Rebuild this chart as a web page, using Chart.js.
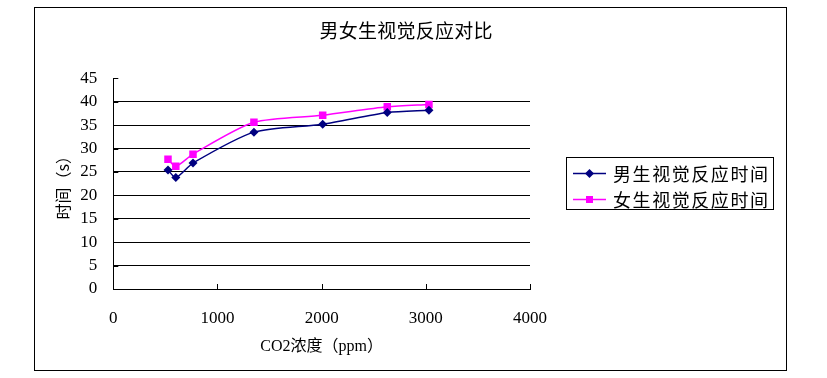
<!DOCTYPE html>
<html>
<head>
<meta charset="utf-8">
<script src="https://cdn.jsdelivr.net/npm/chart.js@4/dist/chart.umd.min.js"></script>
<style>
html,body{margin:0;padding:0;background:#fff;}
#wrap{position:relative;width:827px;height:378px;}
#frame{position:absolute;left:34px;top:7px;width:753px;height:364px;border:1px solid #000;box-sizing:border-box;}
canvas{position:absolute;left:0;top:0;}
</style>
</head>
<body>
<div id="wrap">
<div id="frame"></div>
<canvas id="c" width="827" height="378"></canvas>
</div>
<script>
const titleText = '男女生视觉反应对比';
const xTitle = 'CO2浓度（ppm）';
const yTitle = '时间（s）';
const seriesNames = ['男生视觉反应时间', '女生视觉反应时间'];
const co2 = [525, 600, 765, 1350, 2010, 2630, 3030];
const male = [25.4, 23.8, 26.9, 33.5, 35.2, 37.7, 38.2];
const female = [27.7, 26.2, 28.8, 35.6, 37.1, 38.9, 39.4];
const xTicks = [0, 1000, 2000, 3000, 4000];
const yTicks = [0, 5, 10, 15, 20, 25, 30, 35, 40, 45];

const serif = '"Liberation Serif", "Noto Sans CJK SC", serif';
const cjk = '"Noto Sans CJK SC", "Liberation Serif", sans-serif';

function spacedText(ctx, text, x, y, targetWidth, align) {
  try { ctx.letterSpacing = '0px'; } catch (e) {}
  const w = ctx.measureText(text).width;
  const n = Array.from(text).length;
  let sp = (targetWidth - w) / Math.max(n - 1, 1);
  if (sp < 0) sp = 0;
  try { ctx.letterSpacing = sp + 'px'; } catch (e) {}
  const total = w + sp * (n - 1);
  ctx.textAlign = 'left';
  const sx = align === 'center' ? x - total / 2 : x;
  ctx.fillText(text, sx, y);
  try { ctx.letterSpacing = '0px'; } catch (e) {}
}

const stubs = {
  id: 'stubs',
  afterDraw(chart) {
    const ctx = chart.ctx, xs = chart.scales.x, ys = chart.scales.y;
    const a = chart.chartArea;
    ctx.save();
    ctx.strokeStyle = '#000';
    ctx.lineWidth = 1;
    ctx.beginPath();
    yTicks.forEach(v => {
      const y = Math.round(ys.getPixelForValue(v)) + 0.5;
      ctx.moveTo(a.left, y); ctx.lineTo(a.left + 5, y);
    });
    xTicks.forEach(v => {
      if (v === 0) return;
      const x = Math.round(xs.getPixelForValue(v)) + 0.5;
      ctx.moveTo(x, a.bottom); ctx.lineTo(x, a.bottom - 5);
    });
    ctx.stroke();
    ctx.restore();
  }
};

const chartTitle = {
  id: 'chartTitle',
  afterDraw(chart) {
    const ctx = chart.ctx;
    ctx.save();
    ctx.fillStyle = '#000';
    ctx.font = '19px ' + cjk;
    ctx.textBaseline = 'middle';
    spacedText(ctx, titleText, 406, 31, 173, 'center');
    ctx.restore();
  }
};

const boxLegend = {
  id: 'boxLegend',
  afterDraw(chart) {
    const ctx = chart.ctx;
    const bx = 566, by = 157, bw = 207, bh = 52;
    ctx.save();
    ctx.strokeStyle = '#000';
    ctx.lineWidth = 1;
    ctx.strokeRect(bx + 0.5, by + 0.5, bw, bh);
    chart.data.datasets.forEach((ds, i) => {
      const cy = by + 16.5 + i * 26;
      ctx.strokeStyle = ds.borderColor;
      ctx.lineWidth = 1.5;
      ctx.beginPath();
      ctx.moveTo(573, cy); ctx.lineTo(606, cy);
      ctx.stroke();
      ctx.fillStyle = ds.pointBackgroundColor;
      if (ds.pointStyle === 'rectRot') {
        ctx.beginPath();
        ctx.moveTo(589.5, cy - 4.5); ctx.lineTo(594, cy); ctx.lineTo(589.5, cy + 4.5); ctx.lineTo(585, cy);
        ctx.closePath(); ctx.fill();
      } else {
        ctx.fillRect(586, cy - 3.5, 7, 7);
      }
      ctx.fillStyle = '#000';
      ctx.font = '18px ' + cjk;
      ctx.textBaseline = 'middle';
      spacedText(ctx, ds.label, 613, cy + 1, 155, 'left');
    });
    ctx.restore();
  }
};

new Chart(document.getElementById('c'), {
  type: 'line',
  data: {
    datasets: [
      {
        label: seriesNames[0],
        data: co2.map((x, i) => ({x, y: male[i]})),
        borderColor: '#000080',
        backgroundColor: '#000080',
        pointBackgroundColor: '#000080',
        pointBorderColor: '#000080',
        pointStyle: 'rectRot',
        pointRadius: 4.5,
        pointBorderWidth: 0,
        borderWidth: 1.5,
        tension: 0.25,
        fill: false
      },
      {
        label: seriesNames[1],
        data: co2.map((x, i) => ({x, y: female[i]})),
        borderColor: '#FF00FF',
        backgroundColor: '#FF00FF',
        pointBackgroundColor: '#FF00FF',
        pointBorderColor: '#FF00FF',
        pointStyle: 'rect',
        pointRadius: 5.3,
        pointBorderWidth: 0,
        borderWidth: 1.5,
        tension: 0.25,
        fill: false
      }
    ]
  },
  options: {
    responsive: false,
    animation: false,
    layout: { padding: { left: 40, top: 78.3, right: 297, bottom: 20 } },
    plugins: {
      legend: { display: false },
      tooltip: { enabled: false },
      title: { display: false }
    },
    scales: {
      x: {
        type: 'linear',
        min: 0, max: 4000,
        afterFit(s) { s.height = 69; },
        afterBuildTicks(s) { s.ticks = xTicks.map(v => ({value: v})); },
        grid: { display: false, drawTicks: false },
        border: { display: true, color: '#000', width: 1 },
        ticks: { color: '#000', padding: 19, maxRotation: 0, font: { family: serif, size: 17 },
                 callback: v => String(v) },
        title: {
          display: true, text: xTitle, color: '#000',
          font: { family: serif, size: 16, lineHeight: 1.2 },
          padding: { top: 0, bottom: 1.7 }
        }
      },
      y: {
        min: 0, max: 45,
        afterFit(s) { s.width = 73.3; },
        afterBuildTicks(s) { s.ticks = yTicks.map(v => ({value: v})); },
        grid: {
          drawTicks: false,
          color: c => (c.tick && c.tick.value > 0 && c.tick.value < 45) ? '#000' : 'rgba(0,0,0,0)',
          lineWidth: 1
        },
        border: { display: true, color: '#000', width: 1 },
        ticks: { color: '#000', padding: 16, font: { family: serif, size: 17 },
                 callback: v => String(v) },
        title: {
          display: true, text: yTitle, color: '#000',
          font: { family: cjk, size: 16, lineHeight: 1.2 },
          padding: { top: 13.4, bottom: 0 }
        }
      }
    }
  },
  plugins: [stubs, chartTitle, boxLegend]
});
</script>
</body>
</html>
